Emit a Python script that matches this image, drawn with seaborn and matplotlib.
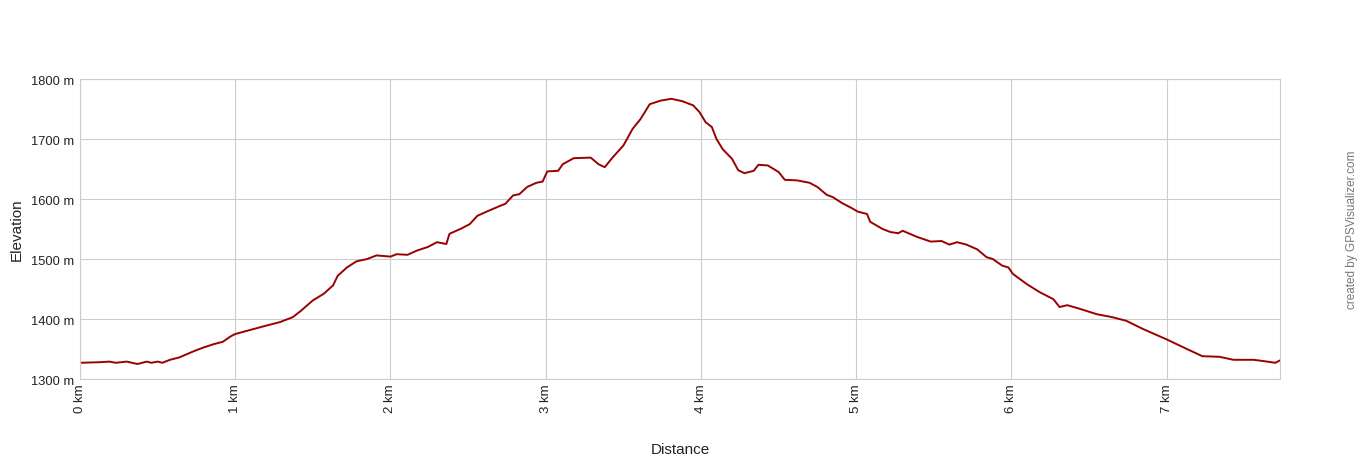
import pandas as pd
import seaborn as sns
import matplotlib
matplotlib.use('Agg')
from matplotlib import pyplot as plt

# elevation profile (km, m)
distance_km = [0.00, 0.13, 0.19, 0.23, 0.30, 0.37, 0.43, 0.46, 0.50, 0.53,
               0.58, 0.64, 0.73, 0.79, 0.86, 0.92, 0.97, 1.00, 1.10, 1.20,
               1.29, 1.37, 1.42, 1.50, 1.57, 1.63, 1.66, 1.72, 1.78, 1.85,
               1.91, 2.00, 2.04, 2.11, 2.17, 2.24, 2.30, 2.36, 2.38, 2.45,
               2.51, 2.56, 2.62, 2.71, 2.74, 2.79, 2.83, 2.88, 2.94, 2.98,
               3.01, 3.08, 3.11, 3.18, 3.29, 3.34, 3.38, 3.43, 3.50, 3.56,
               3.61, 3.67, 3.74, 3.81, 3.88, 3.95, 3.99, 4.03, 4.07, 4.10,
               4.14, 4.20, 4.24, 4.28, 4.34, 4.37, 4.43, 4.50, 4.54, 4.62,
               4.70, 4.75, 4.81, 4.85, 4.91, 4.97, 5.01, 5.07, 5.09, 5.17,
               5.22, 5.27, 5.30, 5.39, 5.48, 5.55, 5.60, 5.65, 5.71, 5.78,
               5.84, 5.88, 5.94, 5.98, 6.01, 6.10, 6.18, 6.27, 6.31, 6.36,
               6.44, 6.55, 6.65, 6.74, 6.85, 7.00, 7.13, 7.23, 7.34, 7.43,
               7.56, 7.62, 7.70, 7.73]
elevation_m = [1327, 1328, 1329, 1327, 1329, 1325, 1329, 1327, 1329, 1327,
               1332, 1336, 1346, 1352, 1358, 1362, 1371, 1375, 1382, 1389,
               1395, 1403, 1413, 1431, 1442, 1456, 1472, 1486, 1496, 1500,
               1506, 1504, 1508, 1507, 1514, 1520, 1528, 1525, 1542, 1550,
               1558, 1572, 1579, 1589, 1592, 1606, 1608, 1620, 1627, 1629,
               1646, 1647, 1658, 1668, 1669, 1658, 1653, 1669, 1689, 1717,
               1733, 1758, 1764, 1767, 1763, 1756, 1745, 1728, 1720, 1700,
               1683, 1667, 1648, 1643, 1647, 1657, 1656, 1645, 1632, 1631,
               1627, 1620, 1607, 1603, 1593, 1585, 1579, 1575, 1562, 1550,
               1545, 1543, 1547, 1537, 1529, 1530, 1524, 1528, 1524, 1516,
               1503, 1500, 1489, 1486, 1475, 1458, 1445, 1433, 1420, 1423,
               1417, 1408, 1403, 1397, 1383, 1366, 1350, 1338, 1337, 1332,
               1332, 1330, 1327, 1331]

x_ticks = [0, 1, 2, 3, 4, 5, 6, 7]
x_tick_labels = ['0 km', '1 km', '2 km', '3 km', '4 km', '5 km', '6 km', '7 km']
y_ticks = [1300, 1400, 1500, 1600, 1700, 1800]
y_tick_labels = ['1300 m', '1400 m', '1500 m', '1600 m', '1700 m', '1800 m']

sns.set_theme(style='whitegrid')
plt.rcParams['font.family'] = ['Liberation Sans', 'DejaVu Sans']

df = pd.DataFrame({'Distance': distance_km, 'Elevation': elevation_m})

fig = plt.figure(figsize=(13.6, 4.6), dpi=100)
ax = fig.add_axes([80 / 1360, 1 - 380 / 460, 1200 / 1360, 300 / 460])
sns.lineplot(data=df, x='Distance', y='Elevation', color='#9b0000', linewidth=1.4, ax=ax)

ax.set_xlim(0, 7.73)
ax.set_ylim(1300, 1800)
ax.set_xticks(x_ticks)
ax.set_xticklabels(x_tick_labels, rotation=90, fontsize=9.5, color='#222222')
ax.set_yticks(y_ticks)
ax.set_yticklabels(y_tick_labels, fontsize=9.3, color='#222222')
ax.tick_params(axis='y', length=0, pad=4)
ax.tick_params(axis='x', length=0, pad=3)
ax.grid(True, color='#cccccc', linewidth=0.8)
for s in ax.spines.values():
    s.set_color('#cccccc')
    s.set_linewidth(0.8)

ax.set_xlabel('')
ax.set_ylabel('')
fig.text(80 / 1360 + 600 / 1360, 1 - 450 / 460, 'Distance', ha='center', va='center',
         fontsize=11, color='#222222')
fig.text(17 / 1360, 1 - 230 / 460, 'Elevation', ha='center', va='center',
         rotation=90, fontsize=11, color='#222222')
fig.text(1352 / 1360, 1 - 230 / 460, 'created by GPSVisualizer.com', ha='center', va='center',
         rotation=90, fontsize=8.5, color='#777777')

fig.savefig('out.png', dpi=100, facecolor='white')
